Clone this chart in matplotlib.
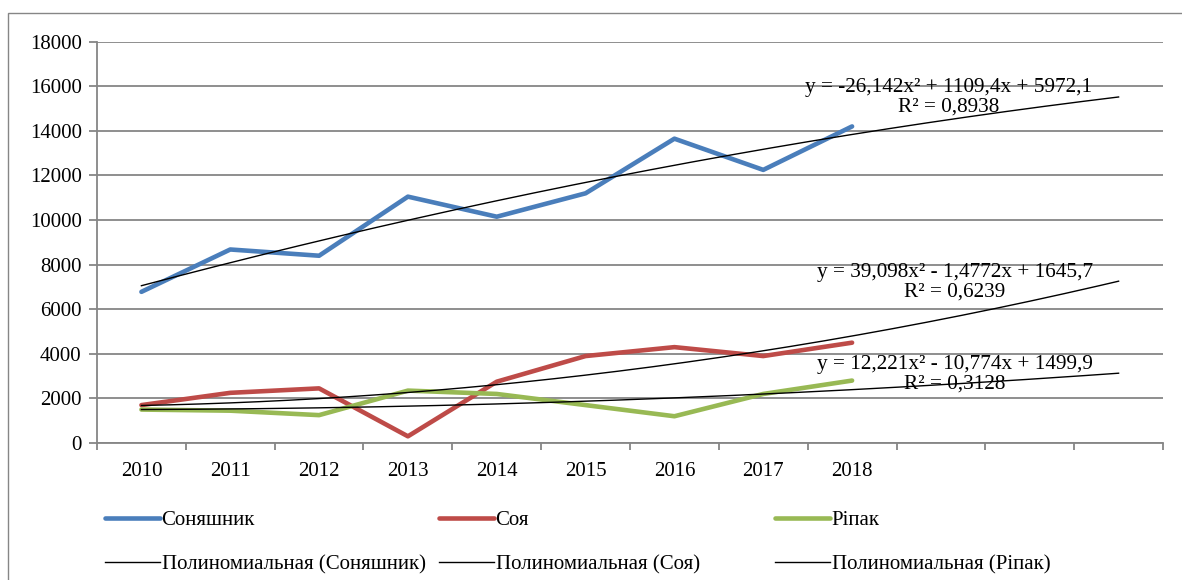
import numpy as np
import matplotlib.pyplot as plt
from matplotlib.lines import Line2D
from matplotlib.patches import Rectangle

plt.rcParams['font.family'] = 'serif'
plt.rcParams['font.serif'] = ['Liberation Serif', 'DejaVu Serif']

# дані
years = ['2010', '2011', '2012', '2013', '2014', '2015', '2016', '2017', '2018', '', '', '']
sunflower = [6780, 8680, 8400, 11050, 10150, 11200, 13650, 12250, 14200]
soy = [1700, 2250, 2450, 300, 2750, 3900, 4300, 3900, 4500]
rapeseed = [1500, 1450, 1250, 2350, 2200, 1700, 1200, 2200, 2800]

# коефіцієнти поліноміальних трендів (a, b, c) з підписів
trend_sunflower = [-26.142, 1109.4, 5972.1]
trend_soy = [39.098, -1.4772, 1645.7]
trend_rapeseed = [12.221, -10.774, 1499.9]
eq_sunflower = 'y = -26,142x² + 1109,4x + 5972,1\nR² = 0,8938'
eq_soy = 'y = 39,098x² - 1,4772x + 1645,7\nR² = 0,6239'
eq_rapeseed = 'y = 12,221x² - 10,774x + 1499,9\nR² = 0,3128'

names = ['Соняшник', 'Соя', 'Ріпак']
colors = ['#4A7EBB', '#BE4B48', '#98B954']
grid_c = '#868686'

fig = plt.figure(figsize=(11.82, 5.80), dpi=100)
ax = fig.add_axes([97 / 1182, 1 - 443 / 580, (1163 - 97) / 1182, (443 - 41.7) / 580])

# зовнішня рамка діаграми (обрізана справа і знизу)
fig.patches.append(Rectangle((7.6 / 1182, -0.1), 1.2, 1 - 12.7 / 580 + 0.1,
                             transform=fig.transFigure, fill=False,
                             edgecolor=grid_c, lw=1.0))

x = np.arange(1, len(sunflower) + 1)
xt = np.linspace(1, len(years), 200)

handles = []
for vals, coef, c, n in zip([sunflower, soy, rapeseed],
                            [trend_sunflower, trend_soy, trend_rapeseed],
                            colors, names):
    h1, = ax.plot(x, vals, color=c, lw=3.3, solid_capstyle='round', zorder=3)
    h2, = ax.plot(xt, np.polyval(coef, xt), color='black', lw=1.0, zorder=4)
    handles.append((h1, h2, n))

ax.set_xlim(0.5, len(years) + 0.5)
ax.set_ylim(0, 18000)
ax.set_yticks(np.arange(0, 18001, 2000))
ax.yaxis.grid(True, color=grid_c, lw=1.3)
ax.set_axisbelow(True)

ax.set_xticks(np.arange(0.5, len(years) + 1, 1))
ax.set_xticklabels([])
ax.set_xticks(np.arange(1, len(years) + 1), minor=True)
ax.set_xticklabels(years, minor=True)
ax.tick_params(axis='x', which='major', length=5, width=1.3, color=grid_c, direction='out')
ax.tick_params(axis='x', which='minor', length=0, pad=14, labelsize=15)
ax.tick_params(axis='y', length=6, width=1.3, color=grid_c, pad=5, labelsize=15)

for s in ['top', 'right']:
    ax.spines[s].set_visible(False)
for s in ['left', 'bottom']:
    ax.spines[s].set_color(grid_c)
    ax.spines[s].set_linewidth(1.3)

# рівняння трендів
for txt, xc, yc in [(eq_sunflower, 949, 97.5), (eq_soy, 955, 282), (eq_rapeseed, 955, 374.5)]:
    fig.text(xc / 1182, 1 - yc / 580, txt, ha='center', va='center',
             fontsize=15.3, linespacing=1.05, multialignment='center')

# легенда: три колонки, по два рядки
col_x = [97, 431, 767]
for (h1, h2, n), cx in zip(handles, col_x):
    lh = [Line2D([], [], color=h1.get_color(), lw=3.3, solid_capstyle='round'),
          Line2D([], [], color='black', lw=1.0)]
    fig.legend(lh, [n, 'Полиномиальная (' + n + ')'],
               loc='upper left', bbox_to_anchor=(cx / 1182, 1 - 502 / 580),
               frameon=False, fontsize=15, handlelength=2.6,
               handletextpad=0.1, labelspacing=1.2, borderaxespad=0)

fig.savefig('out.png', dpi=100)
